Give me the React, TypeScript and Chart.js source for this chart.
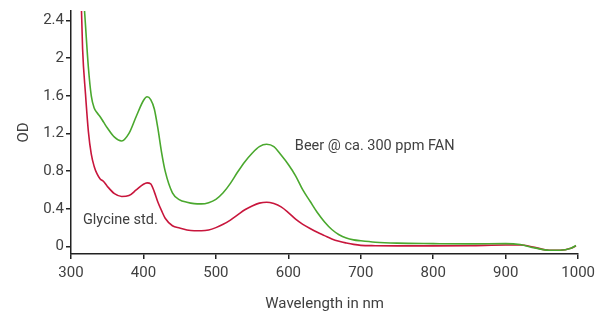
import React, { useEffect, useRef } from "react";
import { Chart, registerables } from "chart.js";

Chart.register(...registerables);

const wavelengths = [312, 316, 320, 324, 328, 332, 336, 340, 345, 350, 360, 370, 380, 390, 400, 405, 410, 415, 420, 425, 430, 440, 450, 460, 470, 480, 490, 500, 510, 520, 530, 540, 550, 560, 570, 580, 590, 600, 610, 620, 630, 640, 650, 660, 670, 680, 690, 700, 720, 750, 800, 850, 900, 920, 940, 960, 975, 990, 997];

const beerOD = [3.6, 2.85, 2.35, 1.9, 1.6, 1.47, 1.42, 1.38, 1.32, 1.26, 1.16, 1.12, 1.2, 1.38, 1.55, 1.59, 1.56, 1.46, 1.25, 1.0, 0.8, 0.57, 0.495, 0.47, 0.455, 0.452, 0.465, 0.5, 0.57, 0.67, 0.79, 0.9, 0.99, 1.06, 1.085, 1.06, 0.97, 0.87, 0.75, 0.6, 0.48, 0.36, 0.26, 0.18, 0.125, 0.09, 0.07, 0.06, 0.045, 0.035, 0.03, 0.027, 0.03, 0.02, -0.015, -0.04, -0.04, -0.02, 0.01];

const glycineOD = [3.2, 2.1, 1.62, 1.22, 0.98, 0.85, 0.77, 0.72, 0.69, 0.64, 0.56, 0.53, 0.54, 0.6, 0.66, 0.675, 0.665, 0.58, 0.47, 0.38, 0.3, 0.22, 0.195, 0.175, 0.167, 0.167, 0.175, 0.2, 0.235, 0.28, 0.335, 0.39, 0.43, 0.46, 0.47, 0.455, 0.42, 0.36, 0.29, 0.235, 0.19, 0.15, 0.115, 0.08, 0.055, 0.037, 0.022, 0.012, 0.008, 0.006, 0.006, 0.008, 0.015, 0.015, -0.01, -0.04, -0.04, -0.02, 0.005];

const xTicks = [300, 400, 500, 600, 700, 800, 900, 1000];
const yTicks = [0, 0.4, 0.8, 1.2, 1.6, 2, 2.4];

const seriesLabels = ["Beer @ ca. 300 ppm FAN", "Glycine std."];
// label anchor positions in data units [wavelength, OD]
const labelAnchors = [
  [609, 1.067],
  [316.5, 0.276],
];

const FONT = "Roboto, sans-serif";
const TEXT = "#404040";

const labelPlugin = {
  id: "seriesLabels",
  afterDatasetsDraw(chart: any) {
    const { ctx, scales } = chart;
    ctx.save();
    ctx.font = `14.5px ${FONT}`;
    ctx.fillStyle = TEXT;
    ctx.textAlign = "left";
    ctx.textBaseline = "middle";
    seriesLabels.forEach((t, i) => {
      const x = scales.x.getPixelForValue(labelAnchors[i][0]);
      const y = scales.y.getPixelForValue(labelAnchors[i][1]);
      ctx.fillText(t, x, y);
    });
    ctx.restore();
  },
};

export default function App() {
  const ref = useRef<HTMLCanvasElement>(null);
  useEffect(() => {
    if (!ref.current) return;
    const chart = new Chart(ref.current, {
      type: "line",
      data: {
        datasets: [
          {
            label: seriesLabels[0],
            data: wavelengths.map((w, i) => ({ x: w, y: beerOD[i] })),
            borderColor: "#4aa82e",
            borderWidth: 1.6,
            pointRadius: 0,
            cubicInterpolationMode: "monotone",
            fill: false,
          },
          {
            label: seriesLabels[1],
            data: wavelengths.map((w, i) => ({ x: w, y: glycineOD[i] })),
            borderColor: "#c8163c",
            borderWidth: 1.6,
            pointRadius: 0,
            cubicInterpolationMode: "monotone",
            fill: false,
          },
        ],
      },
      options: {
        responsive: false,
        animation: false,
        layout: { padding: { left: 0, top: 10, right: 21, bottom: 0 } },
        plugins: { legend: { display: false }, tooltip: { enabled: false } },
        scales: {
          x: {
            type: "linear",
            min: 300,
            max: 1000,
            afterBuildTicks: (s: any) => {
              s.ticks = xTicks.map((v) => ({ value: v }));
            },
            afterFit: (s: any) => {
              s.height = 69;
            },
            grid: { display: true, drawOnChartArea: false, drawTicks: true, tickLength: 5, color: "#222", lineWidth: 1.5 },
            border: { display: true, color: "#222", width: 1.5 },
            ticks: {
              color: TEXT,
              font: { family: FONT, size: 15 },
              padding: 5,
              maxRotation: 0,
              callback: (v: any) => String(v),
            },
            title: {
              display: true,
              text: "Wavelength in nm",
              color: TEXT,
              font: { family: FONT, size: 15 },
              padding: { top: 0, bottom: 10 },
            },
          },
          y: {
            type: "linear",
            min: -0.08,
            max: 2.5,
            afterBuildTicks: (s: any) => {
              s.ticks = yTicks.map((v) => ({ value: v }));
            },
            afterFit: (s: any) => {
              s.width = 71;
            },
            grid: { display: true, drawOnChartArea: false, drawTicks: true, tickLength: 5, color: "#222", lineWidth: 1.5 },
            border: { display: true, color: "#222", width: 1.5 },
            ticks: {
              color: TEXT,
              font: { family: FONT, size: 15 },
              padding: 2,
              callback: (v: any) => String(Number(Number(v).toFixed(1))),
            },
            title: {
              display: true,
              text: "OD",
              color: TEXT,
              font: { family: FONT, size: 15 },
              padding: { top: 15, bottom: 0 },
            },
          },
        },
      },
      plugins: [labelPlugin],
    } as any);
    return () => chart.destroy();
  }, []);
  return (
    <div style={{ position: "absolute", left: 0, top: 0, width: 600, height: 323, background: "#fff" }}>
      <canvas ref={ref} width={600} height={323} />
    </div>
  );
}
